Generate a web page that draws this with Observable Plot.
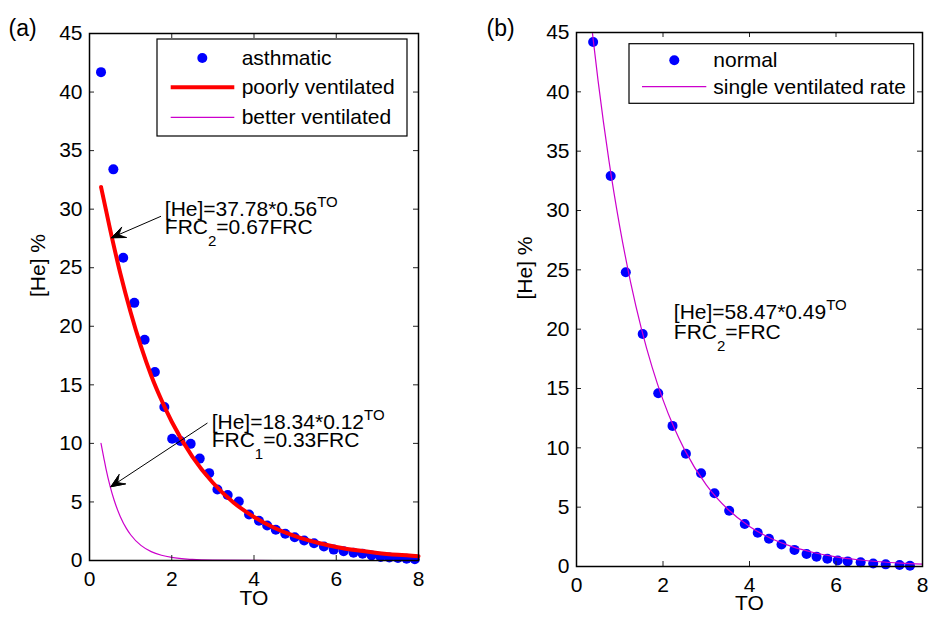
<!DOCTYPE html>
<html><head><meta charset="utf-8">
<script src="https://cdn.jsdelivr.net/npm/d3@7"></script>
<script src="https://cdn.jsdelivr.net/npm/@observablehq/plot@0.6"></script>
<style>
body{margin:0;background:#fff;}
#wrap{position:relative;width:930px;height:622px;font-family:"Liberation Sans",Arial,sans-serif;background:#fff;}
#pa,#pb{position:absolute;top:0}
#pa{left:0} #pb{left:465px}
#legend{position:absolute;left:0;top:0;pointer-events:none}
</style></head><body>
<div id="wrap"><div id="pa"></div><div id="pb"></div><svg id="legend" width="930" height="622"></svg></div>
<script>
// ---------- data ----------
const xTicks = [0, 2, 4, 6, 8];
const yTicks = [0, 5, 10, 15, 20, 25, 30, 35, 40, 45];

// panel (a): asthmatic washout
const toAsthmatic = [0.28,0.58,0.82,1.09,1.34,1.59,1.82,2.01,2.21,2.46,2.68,2.91,3.11,3.36,3.63,3.88,4.12,4.32,4.53,4.76,4.99,5.22,5.46,5.70,5.94,6.18,6.42,6.64,6.86,7.08,7.29,7.50,7.71,7.91];
const heAsthmatic = [41.7,33.4,25.85,22.0,18.85,16.1,13.1,10.4,10.2,9.96,8.7,7.46,6.06,5.6,5.04,3.93,3.39,2.99,2.62,2.28,1.99,1.71,1.48,1.2,0.93,0.8,0.67,0.57,0.43,0.3,0.26,0.22,0.16,0.1];
// poorly ventilated fit
const toPoor = [0.28,0.5,0.75,1,1.25,1.5,1.75,2,2.5,3,3.5,4,4.5,5,5.5,6,6.5,7,7.5,8];
const hePoor = [31.9,28.3,24.5,21.2,18.3,15.8,13.7,11.85,8.87,6.64,4.96,3.72,2.78,2.08,1.56,1.16,0.87,0.65,0.49,0.37];
// better ventilated fit
const toBetter = [0.28,0.35,0.4,0.5,0.6,0.75,0.9,1,1.25,1.5,1.75,2,2.5,3,4,5,6,7,8];
const heBetter = [10.0,8.73,7.85,6.35,5.14,3.74,2.72,2.2,1.29,0.76,0.45,0.26,0.09,0.03,0.004,0,0,0,0];

// panel (b): normal washout
const toNormal = [0.385,0.79,1.14,1.53,1.89,2.22,2.53,2.88,3.19,3.53,3.89,4.19,4.45,4.74,5.04,5.32,5.55,5.80,6.04,6.27,6.57,6.86,7.15,7.47,7.71];
const heNormal = [44.2,32.9,24.8,19.6,14.6,11.85,9.5,7.86,6.18,4.7,3.58,2.84,2.34,1.86,1.4,1.05,0.83,0.66,0.5,0.43,0.35,0.26,0.18,0.12,0.06];
// single ventilated rate fit
const toSingle = [0.37,0.5,0.75,1,1.25,1.5,1.75,2,2.25,2.5,3,3.5,4,4.5,5,5.5,6,6.5,7,7.5,8];
const heSingle = [44.9,40.9,34.2,28.65,23.97,20.05,16.78,14.04,11.75,9.83,6.88,4.82,3.37,2.36,1.65,1.16,0.81,0.57,0.40,0.28,0.195];

// annotations
const annTextA = ["[He]=37.78*0.56^{TO}", "FRC_{2}=0.67FRC", "[He]=18.34*0.12^{TO}", "FRC_{1}=0.33FRC"];
const annXA = [1.832, 1.832, 2.97, 2.97];
const annYA = [29.38, 27.84, 11.27, 9.65];
const arrowsA = [{x1: 1.73, y1: 29.38, x2: 0.535, y2: 27.56}, {x1: 2.86, y1: 11.72, x2: 0.52, y2: 6.3}];
const annTextB = ["[He]=58.47*0.49^{TO}", "FRC_{2}=FRC"];
const annXB = [2.25, 2.25];
const annYB = [20.89, 19.21];

const legendA = [{label: "asthmatic", kind: "dot"}, {label: "poorly ventilated", kind: "thick"}, {label: "better ventilated", kind: "thin"}];
const legendB = [{label: "normal", kind: "dot"}, {label: "single ventilated rate", kind: "thin"}];

// ---------- build ----------
const FONT = '"Liberation Sans", Arial, sans-serif';
const BLUE = "#0000ff", RED = "#ff0000", MAGENTA = "#cc00cc";
const zip = (xs, ys) => xs.map((to, i) => ({to, he: ys[i]}));
const asth = zip(toAsthmatic, heAsthmatic), poor = zip(toPoor, hePoor), better = zip(toBetter, heBetter);
const normal = zip(toNormal, heNormal), single = zip(toSingle, heSingle);
const annA = annTextA.map((t, i) => ({t, x: annXA[i], y: annYA[i]}));
const annB = annTextB.map((t, i) => ({t, x: annXB[i], y: annYB[i]}));

function panel({width, height, mL, mR, mT, mB, marks, ylabelDx, xlabelDy, tag, tagDx, tagDy}) {
  const plotW = width - mL - mR, plotH = height - mT - mB;
  return Plot.plot({
    width, height, marginLeft: mL, marginRight: mR, marginTop: mT, marginBottom: mB,
    style: {fontFamily: FONT, fontSize: "21px", color: "black", background: "white"},
    x: {domain: [0, 8]}, y: {domain: [0, 45]},
    marks: [
      ...marks,
      Plot.tickX(xTicks, {x: d => d, insetTop: plotH - 5, stroke: "#222"}),
      Plot.tickX(xTicks, {x: d => d, insetBottom: plotH - 5, stroke: "#222"}),
      Plot.tickY(yTicks, {y: d => d, insetRight: plotW - 5, stroke: "#222"}),
      Plot.tickY(yTicks, {y: d => d, insetLeft: plotW - 5, stroke: "#222"}),
      Plot.frame({stroke: "black", strokeWidth: 1.5}),
      Plot.axisX({ticks: xTicks, tickSize: 0, tickPadding: 11, label: null, fontSize: 21}),
      Plot.axisY({ticks: yTicks, tickSize: 0, tickPadding: 7, label: null, fontSize: 21}),
      Plot.text(["TO"], {text: d => d, frameAnchor: "bottom", dy: xlabelDy, fontSize: 21}),
      Plot.text(["[He] %"], {text: d => d, frameAnchor: "left", rotate: -90, dx: ylabelDx, fontSize: 21}),
      Plot.text([tag], {text: d => d, frameAnchor: "top-left", textAnchor: "start", dx: tagDx, dy: tagDy, fontSize: 23})
    ]
  });
}

function richText(svg) {
  d3.select(svg).selectAll("text").each(function() {
    const t = this.textContent;
    if (!/[\^_]\{/.test(t)) return;
    const parts = t.split(/([\^_]\{[^}]*\})/).filter(s => s);
    while (this.firstChild) this.removeChild(this.firstChild);
    let shift = 0;
    for (const p of parts) {
      const ts = document.createElementNS("http://www.w3.org/2000/svg", "tspan");
      let target = 0, content = p;
      if (p.startsWith("^{")) { target = -9; content = p.slice(2, -1); ts.setAttribute("font-size", "15"); }
      else if (p.startsWith("_{")) { target = 12; content = p.slice(2, -1); ts.setAttribute("font-size", "15"); }
      ts.setAttribute("dy", target - shift);
      shift = target;
      ts.textContent = content;
      this.appendChild(ts);
    }
  });
}

// turn Plot's open arrowheads into filled, notched heads (MATLAB style)
function fillArrowHeads(svg) {
  const paths = Array.from(svg.querySelectorAll("path"));
  for (const el of paths) {
    const d = el.getAttribute("d") || "";
    const cmds = d.replace(/[^MLACZ]/gi, "").toUpperCase();
    if (cmds !== "MLMLL") continue;
    const v = (d.match(/-?\d*\.?\d+(?:e[-+]?\d+)?/gi) || []).map(Number);
    if (v.length !== 10) continue;
    const [x1, y1, x2, y2, hx1, hy1, , , hx2, hy2] = v;
    const L = Math.hypot(x2 - x1, y2 - y1), ux = (x2 - x1) / L, uy = (y2 - y1) / L;
    const back = ((x2 - hx1) * ux + (y2 - hy1) * uy) * 0.6;
    const nx = x2 - ux * back, ny = y2 - uy * back;
    const p = document.createElementNS("http://www.w3.org/2000/svg", "path");
    p.setAttribute("d", `M${hx1},${hy1}L${x2},${y2}L${hx2},${hy2}L${nx},${ny}Z`);
    p.setAttribute("fill", "black");
    p.setAttribute("stroke", "black");
    p.setAttribute("stroke-width", "0.8");
    el.parentNode.appendChild(p);
  }
}

const plotA = panel({
  width: 465, height: 622, mL: 89, mR: 47, mT: 33, mB: 62,
  ylabelDx: -51, xlabelDy: 44, tag: "(a)", tagDx: -81, tagDy: -14,
  marks: [
    Plot.dot(asth, {x: "to", y: "he", r: 5, fill: BLUE}),
    Plot.line(poor, {x: "to", y: "he", stroke: RED, strokeWidth: 4, curve: "monotone-x"}),
    Plot.line(better, {x: "to", y: "he", stroke: MAGENTA, strokeWidth: 1.2, curve: "monotone-x"}),
    Plot.arrow(arrowsA, {x1: "x1", y1: "y1", x2: "x2", y2: "y2", stroke: "black", strokeWidth: 1, headLength: 22, headAngle: 45}),
    Plot.text(annA, {x: "x", y: "y", text: "t", textAnchor: "start", lineAnchor: "bottom", fontSize: 21})
  ]
});
const plotB = panel({
  width: 465, height: 622, mL: 111, mR: 8, mT: 32, mB: 56,
  ylabelDx: -51.5, xlabelDy: 43, tag: "(b)", tagDx: -90, tagDy: -13,
  marks: [
    Plot.dot(normal, {x: "to", y: "he", r: 5, fill: BLUE}),
    Plot.line(single, {x: "to", y: "he", stroke: MAGENTA, strokeWidth: 1.2, curve: "monotone-x"}),
    Plot.text(annB, {x: "x", y: "y", text: "t", textAnchor: "start", lineAnchor: "bottom", fontSize: 21})
  ]
});
richText(plotA); richText(plotB);
fillArrowHeads(plotA);
document.getElementById("pa").appendChild(plotA);
document.getElementById("pb").appendChild(plotB);

// ---------- legends ----------
function drawLegend(svg, entries, box, rows, mark, line, textX) {
  const g = svg.append("g").attr("font-family", FONT).attr("font-size", 21);
  g.append("rect").attr("x", box[0]).attr("y", box[1]).attr("width", box[2]).attr("height", box[3])
    .attr("fill", "white").attr("stroke", "black").attr("stroke-width", 1.2);
  entries.forEach((e, i) => {
    const y = rows[i];
    if (e.kind === "dot") g.append("circle").attr("cx", mark).attr("cy", y).attr("r", 5).attr("fill", BLUE);
    else g.append("line").attr("x1", line[0]).attr("x2", line[1]).attr("y1", y).attr("y2", y)
      .attr("stroke", e.kind === "thick" ? RED : MAGENTA).attr("stroke-width", e.kind === "thick" ? 4 : 1.2);
    g.append("text").attr("x", textX).attr("y", y + 7).text(e.label);
  });
}
const lsvg = d3.select("#legend");
drawLegend(lsvg, legendA, [157, 39, 250, 97], [58, 87.3, 117.3], 202.3, [170.7, 234.3], 241.7);
drawLegend(lsvg, legendB, [629, 43.7, 284.7, 59.6], [60.3, 86.7], 674.3, [642, 706.3], 713.3);
</script>
</body></html>
